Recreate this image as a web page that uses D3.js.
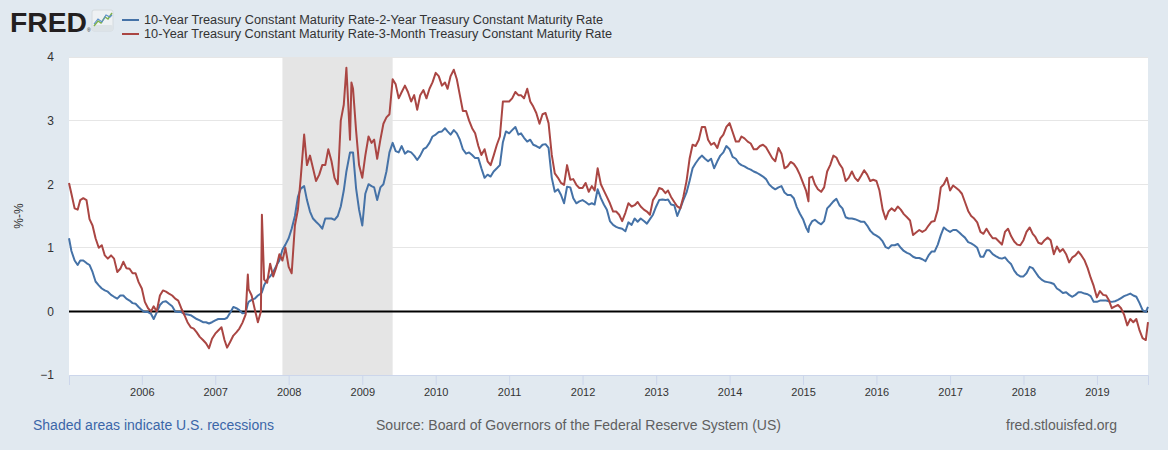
<!DOCTYPE html>
<html><head><meta charset="utf-8">
<script src="https://cdn.jsdelivr.net/npm/d3@7"></script>
<style>
body{margin:0;background:#e1e9f0;}
svg{display:block;font-family:"Liberation Sans",Arial,sans-serif;}
</style>
</head><body>
<svg id="chart" width="1168" height="450"></svg>
<script>
// ---------- DATA (semi-monthly) ----------
const dates = [
"2005-01-04","2005-01-16","2005-02-01","2005-02-16","2005-03-01","2005-03-16","2005-04-01","2005-04-16","2005-05-01","2005-05-16","2005-06-01","2005-06-16","2005-07-01","2005-07-16","2005-08-01","2005-08-16","2005-09-01","2005-09-16","2005-10-01","2005-10-16","2005-11-01","2005-11-16","2005-12-01","2005-12-16",
"2006-01-01","2006-01-16","2006-02-01","2006-02-16","2006-03-01","2006-03-16","2006-04-01","2006-04-16","2006-05-01","2006-05-16","2006-06-01","2006-06-16","2006-07-01","2006-07-16","2006-08-01","2006-08-16","2006-09-01","2006-09-16","2006-10-01","2006-10-16","2006-11-01","2006-11-16","2006-12-01","2006-12-16",
"2007-01-01","2007-01-16","2007-02-01","2007-02-16","2007-03-01","2007-03-16","2007-04-01","2007-04-16","2007-05-01","2007-05-16","2007-06-01","2007-06-12","2007-06-16","2007-07-01","2007-07-16","2007-08-01","2007-08-16","2007-08-21","2007-09-01","2007-09-16","2007-10-01","2007-10-16","2007-11-01","2007-11-16","2007-12-01","2007-12-16",
"2008-01-01","2008-01-16","2008-02-01","2008-02-16","2008-03-01","2008-03-18","2008-04-01","2008-04-16","2008-05-01","2008-05-16","2008-06-01","2008-06-16","2008-07-01","2008-07-16","2008-08-01","2008-08-16","2008-09-01","2008-09-16","2008-10-01","2008-10-14","2008-11-01","2008-11-08","2008-11-16","2008-12-01","2008-12-16",
"2009-01-01","2009-01-16","2009-02-01","2009-02-16","2009-03-01","2009-03-16","2009-04-01","2009-04-16","2009-05-01","2009-05-16","2009-06-01","2009-06-16","2009-07-01","2009-07-16","2009-08-01","2009-08-16","2009-09-01","2009-09-16","2009-10-01","2009-10-16","2009-11-01","2009-11-16","2009-12-01","2009-12-16",
"2010-01-01","2010-01-16","2010-02-01","2010-02-16","2010-03-01","2010-03-16","2010-04-01","2010-04-16","2010-05-01","2010-05-16","2010-06-01","2010-06-16","2010-07-01","2010-07-16","2010-08-01","2010-08-16","2010-09-01","2010-09-16","2010-10-01","2010-10-16","2010-11-01","2010-11-16","2010-12-01","2010-12-16",
"2011-01-01","2011-01-16","2011-02-01","2011-02-16","2011-03-01","2011-03-16","2011-04-01","2011-04-16","2011-05-01","2011-05-16","2011-06-01","2011-06-16","2011-07-01","2011-07-16","2011-08-01","2011-08-16","2011-09-01","2011-09-16","2011-10-01","2011-10-16","2011-11-01","2011-11-16","2011-12-01","2011-12-16",
"2012-01-01","2012-01-16","2012-02-01","2012-02-16","2012-03-01","2012-03-16","2012-04-01","2012-04-16","2012-05-01","2012-05-16","2012-06-01","2012-06-16","2012-07-01","2012-07-16","2012-08-01","2012-08-16","2012-09-01","2012-09-16","2012-10-01","2012-10-16","2012-11-01","2012-11-16","2012-12-01","2012-12-16",
"2013-01-01","2013-01-16","2013-02-01","2013-02-16","2013-03-01","2013-03-16","2013-04-01","2013-04-16","2013-05-01","2013-05-16","2013-06-01","2013-06-16","2013-07-01","2013-07-16","2013-08-01","2013-08-16","2013-09-01","2013-09-16","2013-10-01","2013-10-16","2013-11-01","2013-11-16","2013-12-01","2013-12-16",
"2014-01-01","2014-01-16","2014-02-01","2014-02-16","2014-03-01","2014-03-16","2014-04-01","2014-04-16","2014-05-01","2014-05-16","2014-06-01","2014-06-16","2014-07-01","2014-07-16","2014-08-01","2014-08-16","2014-09-01","2014-09-16","2014-10-01","2014-10-16","2014-11-01","2014-11-16","2014-12-01","2014-12-16",
"2015-01-01","2015-01-16","2015-01-28","2015-02-01","2015-02-16","2015-03-01","2015-03-16","2015-04-01","2015-04-16","2015-05-01","2015-05-16","2015-06-01","2015-06-16","2015-07-01","2015-07-16","2015-08-01","2015-08-16","2015-09-01","2015-09-16","2015-10-01","2015-10-16","2015-11-01","2015-11-16","2015-12-01","2015-12-16",
"2016-01-01","2016-01-16","2016-02-01","2016-02-16","2016-03-01","2016-03-16","2016-04-01","2016-04-16","2016-05-01","2016-05-16","2016-06-01","2016-06-16","2016-07-01","2016-07-16","2016-08-01","2016-08-16","2016-09-01","2016-09-16","2016-10-01","2016-10-16","2016-11-01","2016-11-16","2016-12-01","2016-12-16",
"2017-01-01","2017-01-16","2017-02-01","2017-02-16","2017-03-01","2017-03-16","2017-04-01","2017-04-16","2017-05-01","2017-05-16","2017-06-01","2017-06-16","2017-07-01","2017-07-16","2017-08-01","2017-08-16","2017-09-01","2017-09-16","2017-10-01","2017-10-16","2017-11-01","2017-11-16","2017-12-01","2017-12-16",
"2018-01-01","2018-01-16","2018-02-01","2018-02-16","2018-03-01","2018-03-16","2018-04-01","2018-04-16","2018-05-01","2018-05-16","2018-06-01","2018-06-16","2018-07-01","2018-07-16","2018-08-01","2018-08-16","2018-09-01","2018-09-16","2018-10-01","2018-10-16","2018-11-01","2018-11-16","2018-12-01","2018-12-16",
"2019-01-01","2019-01-16","2019-02-01","2019-02-16","2019-03-01","2019-03-16","2019-04-01","2019-04-16","2019-05-01","2019-05-16","2019-06-01","2019-06-16","2019-07-01","2019-07-16","2019-08-01","2019-08-16","2019-09-01","2019-09-12"
];

// 10-Year minus 2-Year (blue)
const spread10y2y = [
1.15,0.95,0.80,0.73,0.80,0.80,0.76,0.73,0.62,0.47,0.41,0.36,0.33,0.31,0.26,0.23,0.20,0.25,0.25,0.20,0.17,0.13,0.12,0.07,
0.02,-0.01,-0.01,-0.04,-0.12,-0.02,0.10,0.15,0.16,0.12,0.08,0.00,-0.01,-0.01,-0.04,-0.05,-0.06,-0.09,-0.12,-0.14,-0.17,-0.17,-0.19,-0.17,
-0.14,-0.12,-0.12,-0.12,-0.10,-0.02,0.07,0.05,0.02,-0.03,-0.02,0.12,0.15,0.18,0.20,0.25,0.28,0.30,0.41,0.50,0.55,0.62,0.72,0.80,0.97,1.05,
1.15,1.30,1.50,1.80,1.93,1.97,1.75,1.57,1.46,1.41,1.36,1.30,1.46,1.46,1.46,1.44,1.50,1.65,1.90,2.20,2.50,2.50,2.50,1.94,1.60,
1.35,1.85,2.00,1.97,1.95,1.75,1.95,2.00,2.20,2.50,2.65,2.52,2.50,2.60,2.48,2.52,2.50,2.45,2.38,2.45,2.55,2.58,2.65,2.75,
2.78,2.82,2.83,2.88,2.83,2.78,2.85,2.80,2.70,2.55,2.48,2.50,2.46,2.41,2.41,2.25,2.10,2.15,2.12,2.20,2.25,2.30,2.66,2.83,
2.80,2.85,2.90,2.78,2.80,2.73,2.67,2.70,2.62,2.60,2.57,2.62,2.63,2.57,2.10,1.88,1.92,1.83,1.70,1.96,1.95,1.78,1.70,1.73,
1.75,1.72,1.68,1.70,1.68,1.92,1.78,1.68,1.60,1.42,1.36,1.33,1.31,1.30,1.26,1.40,1.36,1.46,1.41,1.46,1.42,1.38,1.45,1.52,
1.65,1.75,1.76,1.75,1.76,1.68,1.67,1.50,1.62,1.75,1.87,2.05,2.25,2.33,2.40,2.45,2.40,2.36,2.40,2.25,2.36,2.45,2.50,2.60,
2.55,2.43,2.40,2.33,2.30,2.28,2.25,2.23,2.20,2.18,2.15,2.12,2.08,2.00,1.95,1.92,1.95,1.97,1.87,1.83,1.83,1.78,1.64,1.54,
1.45,1.32,1.25,1.34,1.42,1.44,1.40,1.37,1.42,1.62,1.67,1.73,1.77,1.67,1.62,1.48,1.46,1.46,1.45,1.43,1.41,1.41,1.35,1.27,1.22,
1.19,1.16,1.10,1.01,0.99,1.04,1.04,1.06,1.00,0.95,0.92,0.90,0.86,0.84,0.84,0.82,0.79,0.88,0.94,0.94,1.05,1.20,1.32,1.28,
1.25,1.28,1.28,1.24,1.20,1.16,1.09,1.07,1.04,1.00,0.86,0.86,0.96,0.96,0.90,0.87,0.84,0.83,0.85,0.79,0.74,0.64,0.58,0.55,
0.55,0.60,0.70,0.68,0.62,0.55,0.50,0.47,0.46,0.45,0.43,0.36,0.33,0.29,0.30,0.26,0.23,0.26,0.30,0.30,0.28,0.27,0.24,0.15,
0.15,0.17,0.17,0.17,0.16,0.15,0.16,0.18,0.21,0.24,0.26,0.28,0.25,0.23,0.13,0.02,-0.01,0.07
];

// 10-Year minus 3-Month (red)
const spread10y3m = [
2.02,1.85,1.62,1.60,1.75,1.78,1.75,1.45,1.35,1.15,1.00,1.04,0.88,0.83,0.88,0.83,0.62,0.67,0.78,0.68,0.67,0.60,0.60,0.46,
0.36,0.15,0.05,0.00,0.08,0.00,0.25,0.33,0.31,0.28,0.25,0.20,0.17,0.05,-0.06,-0.17,-0.25,-0.27,-0.33,-0.40,-0.45,-0.50,-0.58,-0.43,
-0.35,-0.30,-0.25,-0.45,-0.57,-0.48,-0.38,-0.33,-0.27,-0.18,-0.05,0.58,0.35,0.25,0.04,-0.17,0.00,1.52,0.50,0.45,0.75,0.55,0.70,0.90,0.80,1.00,
0.70,0.60,1.35,1.60,2.10,2.78,2.30,2.45,2.25,2.05,2.15,2.30,2.30,2.55,2.36,2.10,2.00,3.00,3.25,3.83,2.70,3.60,3.50,2.85,2.30,
2.10,2.45,2.75,2.65,2.70,2.40,2.70,2.95,3.05,3.10,3.65,3.57,3.35,3.45,3.55,3.45,3.30,3.40,3.17,3.40,3.48,3.35,3.50,3.60,
3.75,3.70,3.55,3.60,3.50,3.70,3.80,3.65,3.40,3.15,3.15,3.00,2.88,2.80,2.60,2.46,2.55,2.36,2.30,2.45,2.62,2.75,3.30,3.30,
3.30,3.35,3.45,3.40,3.40,3.35,3.50,3.30,3.22,3.12,2.95,3.10,3.12,2.96,2.46,2.17,2.10,2.02,1.99,2.30,2.07,2.08,1.99,1.94,
1.94,2.02,1.88,1.97,1.90,2.25,2.00,1.90,1.80,1.70,1.57,1.57,1.52,1.42,1.55,1.70,1.65,1.67,1.72,1.65,1.60,1.57,1.52,1.75,
1.83,1.94,1.92,1.86,1.90,1.80,1.72,1.65,1.62,1.80,2.05,2.40,2.62,2.60,2.70,2.90,2.90,2.70,2.62,2.65,2.57,2.72,2.78,2.90,
2.96,2.82,2.67,2.67,2.75,2.72,2.67,2.64,2.55,2.55,2.60,2.62,2.58,2.50,2.41,2.36,2.57,2.48,2.25,2.28,2.35,2.32,2.25,2.15,
2.02,1.90,1.73,2.10,2.12,2.00,1.92,1.88,1.95,2.20,2.30,2.45,2.42,2.32,2.25,2.05,2.10,2.20,2.10,2.05,2.13,2.22,2.15,2.05,2.07,
2.05,1.90,1.60,1.45,1.57,1.62,1.58,1.65,1.60,1.53,1.48,1.43,1.20,1.24,1.28,1.25,1.28,1.35,1.41,1.42,1.60,1.95,2.00,2.10,
1.90,1.98,1.94,1.90,1.85,1.72,1.58,1.50,1.46,1.40,1.25,1.22,1.30,1.22,1.15,1.15,1.10,1.05,1.25,1.30,1.18,1.10,1.05,1.04,
1.12,1.25,1.32,1.22,1.17,1.08,1.06,1.12,1.16,1.12,0.90,1.02,0.94,0.98,0.90,0.77,0.85,0.88,0.94,0.88,0.80,0.68,0.53,0.40,
0.22,0.32,0.26,0.25,0.18,0.05,0.08,0.10,0.05,-0.05,-0.22,-0.12,-0.17,-0.12,-0.30,-0.42,-0.45,-0.17
];

const seriesNames = [
  "10-Year Treasury Constant Maturity Rate-2-Year Treasury Constant Maturity Rate",
  "10-Year Treasury Constant Maturity Rate-3-Month Treasury Constant Maturity Rate"
];
const seriesColors = ["#4572a7", "#aa4643"];
const yTickValues = [-1, 0, 1, 2, 3, 4];
const xTickYears = [2006,2007,2008,2009,2010,2011,2012,2013,2014,2015,2016,2017,2018,2019];
const recessions = [["2007-12-01", "2009-06-01"]];
const domainStart = "2005-01-04", domainEnd = "2019-09-12";

// ---------- DRAW ----------
const parse = d3.timeParse("%Y-%m-%d");
const svg = d3.select("#chart");
const L = 69, R = 1148, T = 57, B = 375;

const x = d3.scaleTime().domain([parse(domainStart), parse(domainEnd)]).range([L, R]);
const y = d3.scaleLinear().domain([-1, 4]).range([B, T]);

// plot background
svg.append("rect").attr("x", L).attr("y", T).attr("width", R - L).attr("height", B - T).attr("fill", "#ffffff");

// grid
svg.append("g").selectAll("line").data(yTickValues.filter(v => v > -1)).join("line")
  .attr("x1", L).attr("x2", R).attr("y1", d => y(d)).attr("y2", d => y(d))
  .attr("stroke", "#e6e6e6").attr("stroke-width", 1).attr("shape-rendering", "crispEdges");

// recession shading
svg.append("g").selectAll("rect").data(recessions).join("rect")
  .attr("x", d => x(parse(d[0]))).attr("width", d => x(parse(d[1])) - x(parse(d[0])))
  .attr("y", T).attr("height", B - T).attr("fill", "#e5e5e5");

// x axis
const xAxis = d3.axisBottom(x)
  .tickValues(xTickYears.map(yr => new Date(yr, 0, 1)))
  .tickFormat(d3.timeFormat("%Y")).tickSize(10).tickPadding(3);
const gx = svg.append("g").attr("transform", `translate(0,${B})`).call(xAxis);
gx.select(".domain").attr("stroke", "#ccd6eb");
gx.selectAll(".tick line").attr("stroke", "#ccd6eb");
gx.selectAll(".tick text").attr("fill", "#333").style("font-size", "11px")
  .style("font-family", "'Liberation Sans', Arial, sans-serif");

// y axis labels
const yAxis = d3.axisLeft(y).tickValues(yTickValues).tickSize(0).tickPadding(15).tickFormat(d3.format("d"));
const gy = svg.append("g").attr("transform", `translate(${L},0)`).call(yAxis);
gy.select(".domain").remove();
gy.selectAll(".tick text").attr("fill", "#333").style("font-size", "12px")
  .style("font-family", "'Liberation Sans', Arial, sans-serif");

// zero line
svg.append("line").attr("x1", L).attr("x2", R).attr("y1", y(0)).attr("y2", y(0))
  .attr("stroke", "#000").attr("stroke-width", 2);

// series
const parsedDates = dates.map(parse);
const line = d3.line().x(d => x(d[0])).y(d => y(d[1]));
[spread10y2y, spread10y3m].forEach((vals, i) => {
  svg.append("path")
    .datum(parsedDates.map((d, k) => [d, vals[k]]))
    .attr("fill", "none").attr("stroke", seriesColors[i])
    .attr("stroke-width", 2).attr("stroke-linejoin", "round")
    .attr("d", line);
});

// y axis title
svg.append("text").attr("transform", "translate(23,216) rotate(-90)")
  .attr("text-anchor", "middle").attr("fill", "#333").style("font-size", "12px").text("%-%");

// FRED logo
svg.append("text").attr("x", 10).attr("y", 32).attr("textLength", 77).attr("lengthAdjust", "spacingAndGlyphs")
  .attr("fill", "#231f20").style("font-size", "28px").style("font-weight", "900").text("FRED");
svg.append("text").attr("x", 87).attr("y", 32).attr("fill", "#231f20").style("font-size", "5px").text("®");
const icon = svg.append("g").attr("transform", "translate(92,10)");
icon.append("rect").attr("width", 21).attr("height", 21).attr("rx", 2).attr("fill", "#eef1f3").attr("stroke", "#d4dade");
icon.append("rect").attr("y", 15).attr("width", 21).attr("height", 6).attr("rx", 2).attr("fill", "#dde3e7");
icon.append("polyline").attr("points", "2,16 6,11 9,13 13,7 16,9 20,3").attr("fill", "none").attr("stroke", "#7fb24a").attr("stroke-width", 1.4);
icon.append("polyline").attr("points", "2,14 6,9 10,12 14,5 18,7 20,5").attr("fill", "none").attr("stroke", "#5b8fc9").attr("stroke-width", 1.1);

// legend
const legY = [20, 34];
const legLen = [459, 468];
seriesNames.forEach((name, i) => {
  svg.append("line").attr("x1", 122).attr("x2", 139).attr("y1", legY[i]).attr("y2", legY[i])
    .attr("stroke", seriesColors[i]).attr("stroke-width", 2);
  svg.append("text").attr("x", 144).attr("y", legY[i] + 4)
    .attr("textLength", legLen[i]).attr("lengthAdjust", "spacingAndGlyphs")
    .attr("fill", "#333").style("font-size", "12px").text(name);
});

// footer
svg.append("text").attr("x", 33).attr("y", 430).attr("textLength", 241).attr("lengthAdjust", "spacingAndGlyphs")
  .attr("fill", "#3b66a8").style("font-size", "14px").text("Shaded areas indicate U.S. recessions");
svg.append("text").attr("x", 376).attr("y", 430).attr("textLength", 405).attr("lengthAdjust", "spacingAndGlyphs")
  .attr("fill", "#5f5f5f").style("font-size", "14px").text("Source: Board of Governors of the Federal Reserve System (US)");
svg.append("text").attr("x", 1006).attr("y", 430).attr("textLength", 111).attr("lengthAdjust", "spacingAndGlyphs")
  .attr("fill", "#5f5f5f").style("font-size", "14px").text("fred.stlouisfed.org");
</script>
</body></html>
